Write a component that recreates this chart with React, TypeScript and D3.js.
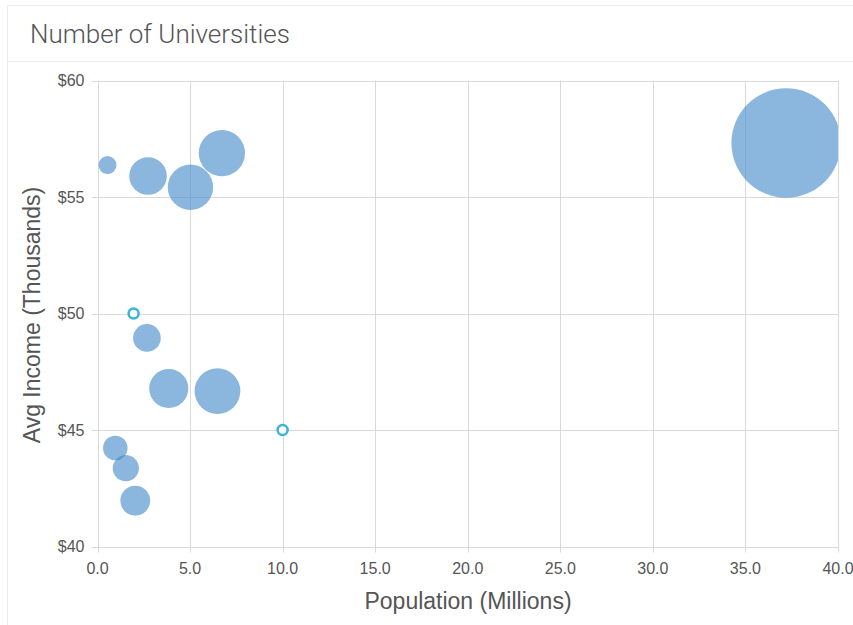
import React from "react";
import * as d3 from "d3";

const populations = [0.54, 2.73, 5.02, 6.72, 37.2, 2.67, 3.85, 6.48, 0.96, 1.53, 2.04];
const incomes = [56.37, 55.9, 55.42, 56.88, 57.32, 48.95, 46.78, 46.67, 44.23, 43.36, 41.97];
const universities = [8, 35, 51, 53, 297, 19, 38, 52, 15, 17, 22];

const markerPopulations = [1.95, 10];
const markerIncomes = [50, 45];

const xTicks = [0, 5, 10, 15, 20, 25, 30, 35, 40];
const yTicks = [40, 45, 50, 55, 60];

const W = 853;
const H = 625;
const left = 97.5;
const right = 838;
const top = 80.5;
const bottom = 546.5;

export default function App() {
  const x = d3.scaleLinear().domain([0, 40]).range([left, right]);
  const y = d3.scaleLinear().domain([40, 60]).range([bottom, top]);
  const r = d3.scaleSqrt().domain([0, 300]).range([0, 55]);
  const bubbles = populations.map((p, i) => ({ p, inc: incomes[i], u: universities[i] }));
  const markers = markerPopulations.map((p, i) => ({ p, inc: markerIncomes[i] }));
  const font = "'Liberation Sans', Arial, sans-serif";

  return (
    <svg width={W} height={H} style={{ position: "absolute", left: 0, top: 0, background: "#fff" }}>
      {/* card */}
      <line x1={7.5} x2={7.5} y1={5} y2={H} stroke="#ececec" />
      <line x1={7} x2={W} y1={5.5} y2={5.5} stroke="#ececec" />
      <line x1={7} x2={W} y1={61.5} y2={61.5} stroke="#ececec" />
      <text x={30} y={43} fontFamily="Roboto, sans-serif" fontWeight={300} fontSize={26} fill="#555">
        Number of Universities
      </text>
      <defs>
        <clipPath id="plot">
          <rect x={left} y={top} width={right - left} height={bottom - top} />
        </clipPath>
      </defs>
      {/* grid */}
      {xTicks.map((t) => (
        <line key={"gx" + t} x1={Math.round(x(t)) + 0.5} x2={Math.round(x(t)) + 0.5} y1={top} y2={bottom + 6} stroke="#d9d9d9" strokeWidth={1} />
      ))}
      {yTicks.map((t) => (
        <line key={"gy" + t} x1={left - 6} x2={right} y1={Math.round(y(t)) + 0.5} y2={Math.round(y(t)) + 0.5} stroke="#d9d9d9" strokeWidth={1} />
      ))}
      {/* tick labels */}
      {xTicks.map((t) => (
        <text key={"tx" + t} x={x(t)} y={bottom + 27} textAnchor="middle" fontFamily={font} fontSize={16} fill="#555">
          {d3.format(".1f")(t)}
        </text>
      ))}
      {yTicks.map((t) => (
        <text key={"ty" + t} x={left - 13} y={y(t) + 5.5} textAnchor="end" fontFamily={font} fontSize={16} fill="#555">
          {"$" + t}
        </text>
      ))}
      {/* axis titles */}
      <text x={468} y={609} textAnchor="middle" fontFamily={font} fontSize={23} fill="#555">
        Population (Millions)
      </text>
      <text transform={`translate(40,315) rotate(-90)`} textAnchor="middle" fontFamily={font} fontSize={23} fill="#555">
        Avg Income (Thousands)
      </text>
      {/* bubbles */}
      <g clipPath="url(#plot)">
        {bubbles.map((b, i) => (
          <circle key={"b" + i} cx={x(b.p)} cy={y(b.inc)} r={r(b.u)} fill="#3d85c6" fillOpacity={0.6} />
        ))}
      </g>
      {markers.map((m, i) => (
        <circle key={"m" + i} cx={x(m.p)} cy={y(m.inc)} r={5} fill="#fff" stroke="#3ab4d8" strokeWidth={2.5} />
      ))}
    </svg>
  );
}
